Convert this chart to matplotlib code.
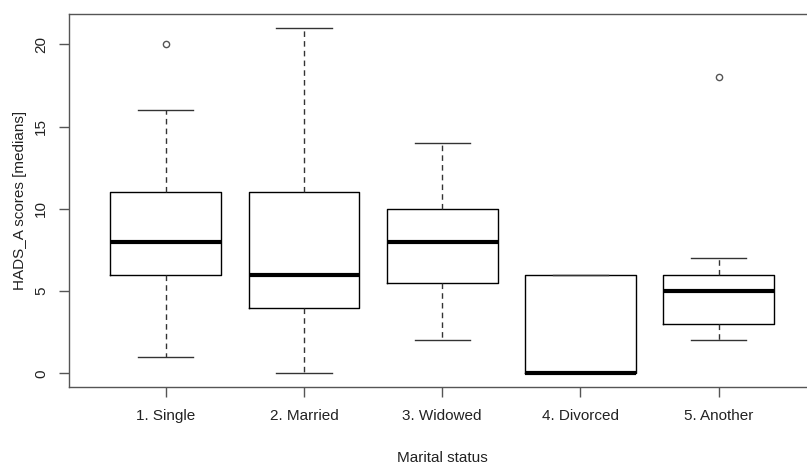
import matplotlib
matplotlib.use("Agg")
import matplotlib.pyplot as plt

plt.rcParams['font.family'] = ['Liberation Sans', 'DejaVu Sans']

# marital status groups and box statistics
groups = ['1. Single', '2. Married', '3. Widowed', '4. Divorced', '5. Another']
whis_lo = [1, 0, 2, 0, 2]
q1 = [6, 4, 5.5, 0, 3]
medians = [8, 6, 8, 0, 5]
q3 = [11, 11, 10, 6, 6]
whis_hi = [16, 21, 14, 6, 7]
outliers = [[20], [], [], [], [18]]

stats = []
for i in range(len(groups)):
    stats.append(dict(label=groups[i], whislo=whis_lo[i], q1=q1[i], med=medians[i],
                      q3=q3[i], whishi=whis_hi[i], fliers=outliers[i]))

fig = plt.figure(figsize=(8.07, 4.67), dpi=100)
ax = fig.add_axes([0.0855, 0.171, 0.925, 0.799])

ax.bxp(stats, positions=range(1, 6), widths=0.8, patch_artist=False,
       boxprops=dict(color='black', lw=1),
       medianprops=dict(color='black', lw=3, solid_capstyle='butt'),
       whiskerprops=dict(color='#333333', lw=1, linestyle=(0, (4, 3))),
       capprops=dict(color='#333333', lw=1),
       flierprops=dict(marker='o', markersize=4.5, markerfacecolor='none',
                       markeredgecolor='#555555', markeredgewidth=1))

# R-style axes
ax.set_xlim(0.3, 5.7)
ax.set_ylim(-0.84, 21.84)
ax.set_yticks([0, 5, 10, 15, 20])
ax.set_yticklabels(['0', '5', '10', '15', '20'], rotation=90, va='center')
ax.set_xticks(range(1, 6))
ax.set_xticklabels(groups)
ax.tick_params(axis='both', length=7, width=1, color='#555555', labelsize=11,
               labelcolor='#222222')
ax.tick_params(axis='x', pad=9)
ax.tick_params(axis='y', pad=8)
for s in ax.spines.values():
    s.set_color('#555555')
    s.set_linewidth(1)

ax.set_xlabel('Marital status', fontsize=11, color='#222222', labelpad=20)
ax.set_ylabel('HADS_A scores [medians]', fontsize=11, color='#222222', labelpad=5)

fig.savefig('out.png', dpi=100)
